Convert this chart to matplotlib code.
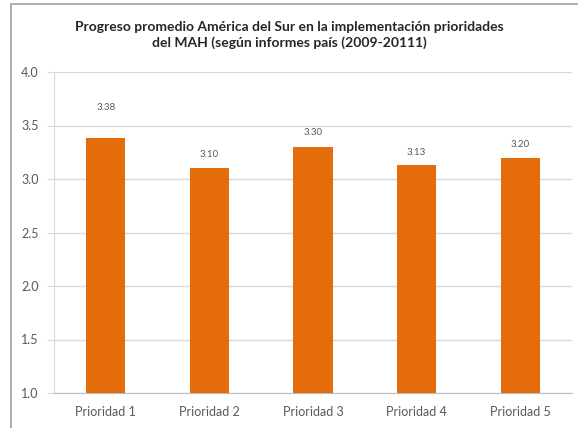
import matplotlib.pyplot as plt
from matplotlib.patches import Rectangle

plt.rcParams["font.family"] = ["Lato", "DejaVu Sans"]

categories = ["Prioridad 1", "Prioridad 2", "Prioridad 3", "Prioridad 4", "Prioridad 5"]
values = [3.38, 3.10, 3.30, 3.13, 3.20]
value_labels = ["3.38", "3.10", "3.30", "3.13", "3.20"]
title = ("Progreso promedio América del Sur en la implementación prioridades\n"
         "del MAH (según informes país (2009-20111)")

fig = plt.figure(figsize=(5.78, 4.28), dpi=100)
ax = fig.add_axes([54 / 578, 1 - 393 / 428, 518 / 578, 321 / 428])

x = range(len(categories))
ax.bar(x, [v - 1.0 for v in values], bottom=1.0, width=0.38, color="#E46C0A", zorder=3)

# labels sit above bars; the first one is drawn higher in the original
offsets = [0.29, 0.13, 0.13, 0.12, 0.12]
for i, (v, lab, off) in enumerate(zip(values, value_labels, offsets)):
    ax.text(i, v + off, lab, ha="center", va="center", fontsize=7, color="#595959")

ax.set_ylim(1.0, 4.0)
ax.set_xlim(-0.5, len(categories) - 0.5)
ax.set_yticks([1.0, 1.5, 2.0, 2.5, 3.0, 3.5, 4.0])
ax.set_yticklabels([f"{t:.1f}" for t in ax.get_yticks()])
ax.set_xticks(list(x))
ax.set_xticklabels(categories)
ax.tick_params(axis="both", labelsize=9, colors="#595959")
ax.tick_params(axis="y", length=5, color="#D9D9D9", pad=6)
ax.tick_params(axis="x", length=0, pad=9)
ax.grid(axis="y", color="#D9D9D9", linewidth=1, zorder=0)
for s in ["top", "right"]:
    ax.spines[s].set_visible(False)
ax.spines["left"].set_color("#D9D9D9")
ax.spines["bottom"].set_color("#BFBFBF")

fig.text(0.5, 1 - 35 / 428, title, ha="center", va="center", fontsize=10,
         fontweight="bold", color="#262626", linespacing=1.3)

fig.patches.append(Rectangle((11 / 578, -0.1), 1.2, 1 - 4 / 428 + 0.1,
                             transform=fig.transFigure, fill=False,
                             edgecolor="#A0A0A0", linewidth=1.2))

fig.savefig("out.png", dpi=100)
